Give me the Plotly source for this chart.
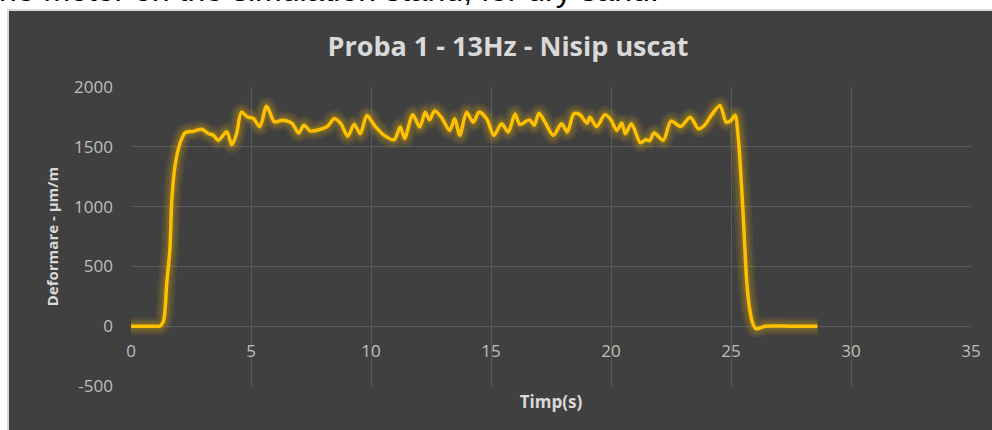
import plotly.graph_objects as go

# Timp (s) si deformare (µm/m)
timp = [0, 0.5, 1.0, 1.2, 1.35, 1.49, 1.62, 1.7, 1.83, 2.04, 2.25, 2.6, 2.95,
        3.22, 3.43, 3.64, 3.99, 4.2, 4.4, 4.6, 4.85, 5.1, 5.37, 5.65, 5.98,
        6.3, 6.7, 6.99, 7.2, 7.47, 7.82, 8.18, 8.47, 8.75, 9.03, 9.3, 9.55,
        9.83, 10.14, 10.55, 10.97, 11.22, 11.4, 11.74, 12.03, 12.26, 12.44,
        12.65, 12.93, 13.28, 13.49, 13.7, 13.98, 14.26, 14.5, 14.82, 15.12,
        15.44, 15.72, 16.0, 16.2, 16.6, 16.8, 17.0, 17.25, 17.6, 17.94, 18.18,
        18.45, 18.7, 19.0, 19.12, 19.4, 19.75, 20.0, 20.24, 20.45, 20.6, 20.85,
        21.23, 21.45, 21.6, 21.8, 22.18, 22.5, 22.9, 23.3, 23.65, 23.9, 24.2,
        24.54, 24.8, 25.0, 25.17, 25.3, 25.44, 25.54, 25.65, 25.76, 25.9,
        26.04, 26.28, 26.42, 27.5, 28.6]
deformare = [0, 0, 0, 0, 40, 360, 640, 1055, 1333, 1528, 1617, 1630, 1647,
             1611, 1597, 1555, 1625, 1518, 1610, 1790, 1750, 1736, 1668, 1840, 1708,
             1722, 1698, 1615, 1680, 1632, 1643, 1670, 1734, 1692, 1588, 1687, 1610,
             1761, 1680, 1596, 1560, 1665, 1570, 1769, 1665, 1788, 1725,
             1802, 1747, 1637, 1734, 1596, 1788, 1706, 1790, 1734, 1596,
             1692, 1624, 1775, 1687, 1725, 1680, 1780, 1706, 1596, 1692, 1624,
             1775, 1769, 1698, 1747, 1670, 1769, 1725, 1637, 1698, 1610, 1692,
             1533, 1560, 1550, 1615, 1555, 1715, 1670, 1747, 1650, 1680, 1769,
             1845, 1706, 1720, 1764, 1583, 1167, 806, 389, 167, 28,
             -20, -10, 0, 0, 0]

x_ticks = [0, 5, 10, 15, 20, 25, 30, 35]
y_ticks = [-500, 0, 500, 1000, 1500, 2000]
y_ticktext = ["-500", "0", "500", "1000", "1500", "2000"]

galben = "#FFC000"
gri_text = "#bfbfbf"
gri_titlu = "#d9d9d9"
gri_grid = "#5a5a5a"

fig = go.Figure()

# efect de "glow" ca in Excel
for w, a in [(18, 0.08), (13, 0.10), (8, 0.14)]:
    fig.add_trace(go.Scatter(x=timp, y=deformare, mode="lines",
                             line=dict(color=f"rgba(255,192,0,{a})", width=w,
                                       shape="spline", smoothing=0.8),
                             hoverinfo="skip", showlegend=False))

fig.add_trace(go.Scatter(x=timp, y=deformare, mode="lines",
                         line=dict(color=galben, width=3.5, shape="spline", smoothing=0.8),
                         showlegend=False))

W, H = 992, 430
L, R, T, B = 131, 21, 87, 44
ph = H - T - B
pw = W - L - R


def px_x(p):
    return (p - L) / pw


def px_y(p):
    return (H - B - p) / ph


fig.add_shape(type="rect", xref="paper", yref="paper",
              x0=px_x(8), x1=px_x(W + 5), y0=px_y(H + 5), y1=px_y(10),
              fillcolor="#404040", line=dict(color="#d9d9d9", width=2), layer="below")

fig.add_annotation(text="the motor on the simulation stand, for dry sand.",
                   xref="paper", yref="paper", x=px_x(661), y=px_y(10.5),
                   xanchor="right", yanchor="bottom", showarrow=False,
                   font=dict(family="Liberation Sans, Arial", size=32, color="black"))

fig.update_layout(
    width=W, height=H,
    margin=dict(l=L, r=R, t=T, b=B),
    paper_bgcolor="white",
    plot_bgcolor="#404040",
    title=dict(text="<b>Proba 1 - 13Hz - Nisip uscat</b>", x=508 / W, xanchor="center",
               y=1 - 47 / H, yanchor="middle",
               font=dict(family="Open Sans", size=27, color=gri_titlu)),
    font=dict(family="Open Sans", color=gri_text),
    xaxis=dict(range=[0, 35], tickvals=x_ticks, showgrid=True, gridcolor=gri_grid,
               zeroline=False, showline=False, anchor="free", position=0.2,
               ticks="", ticklabelstandoff=13, tickfont=dict(size=17, color=gri_text),
               title=dict(text="<b>Timp(s)</b>", standoff=34,
                          font=dict(size=17, color=gri_titlu))),
    yaxis=dict(range=[-500, 2000], tickvals=y_ticks, ticktext=y_ticktext,
               showgrid=True, gridcolor=gri_grid,
               zeroline=False, showline=False, ticks="", ticklabelstandoff=17,
               tickfont=dict(size=17, color=gri_text),
               title=dict(text="<b>Deformare - µm/m</b>", standoff=11,
                          font=dict(size=15, color=gri_titlu))),
)

fig.write_html("out.html", config={"displayModeBar": False},
               post_script="document.body.style.margin = '0px';")
